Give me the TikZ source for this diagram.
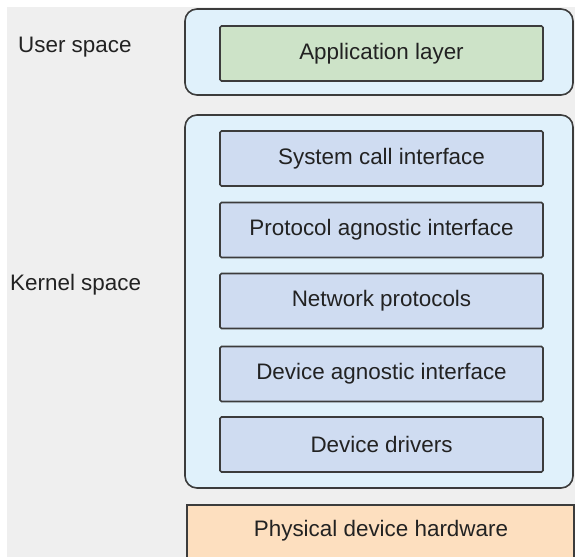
\documentclass[tikz,border=0pt]{standalone}
\usepackage{fontspec}
\setmainfont{Liberation Sans}
\definecolor{edge}{HTML}{3C3C3C}
\definecolor{backdrop}{HTML}{EFEFEF}
\definecolor{spacefill}{HTML}{E0F1FB}
\definecolor{appfill}{HTML}{CDE3C8}
\definecolor{layerfill}{HTML}{CFDCF1}
\definecolor{hwfill}{HTML}{FDDFBF}
\definecolor{ink}{HTML}{222222}

\begin{document}
\begin{tikzpicture}[x=1bp,y=-1bp,
	txt/.style={text=ink,font=\fontsize{22.5}{27}\selectfont,inner sep=0pt},
	space/.style={draw=edge,line width=1.6bp,fill=spacefill,rounded corners=12bp},
	layer/.style={txt,draw=edge,line width=1.6bp,fill=layerfill,rounded corners=1.5bp,
		minimum width=323bp,minimum height=55bp}]
	\useasboundingbox (0,0) rectangle (575,557);
	\fill[backdrop] (7,7) rectangle (575,557);

	% The two spaces on the left
	\node[txt,anchor=west] (user) at (18,47) {User space};
	\node[txt,anchor=west] (kernel) at (10,285) {Kernel space};

	% User space
	\draw[space] (185,9) rectangle (573,95);
	\node[layer,fill=appfill] (app) at (381.5,53.5) {Application layer};

	% Kernel space and its layers
	\draw[space] (185,115) rectangle (573,488);
	\node[layer] (syscall) at (381.5,158.5) {System call interface};
	\node[layer] (protoagn) at (381.5,230) {Protocol agnostic interface};
	\node[layer] (netproto) at (381.5,301) {Network protocols};
	\node[layer] (devagn) at (381.5,374) {Device agnostic interface};
	\node[layer] (drivers) at (381.5,444.5) {Device drivers};

	% The hardware, cut off at the bottom
	\draw[draw=edge,line width=1.6bp,fill=hwfill] (187,505) rectangle (574,600);
	\node[txt] (hw) at (381,531) {Physical device hardware};
\end{tikzpicture}
\end{document}
